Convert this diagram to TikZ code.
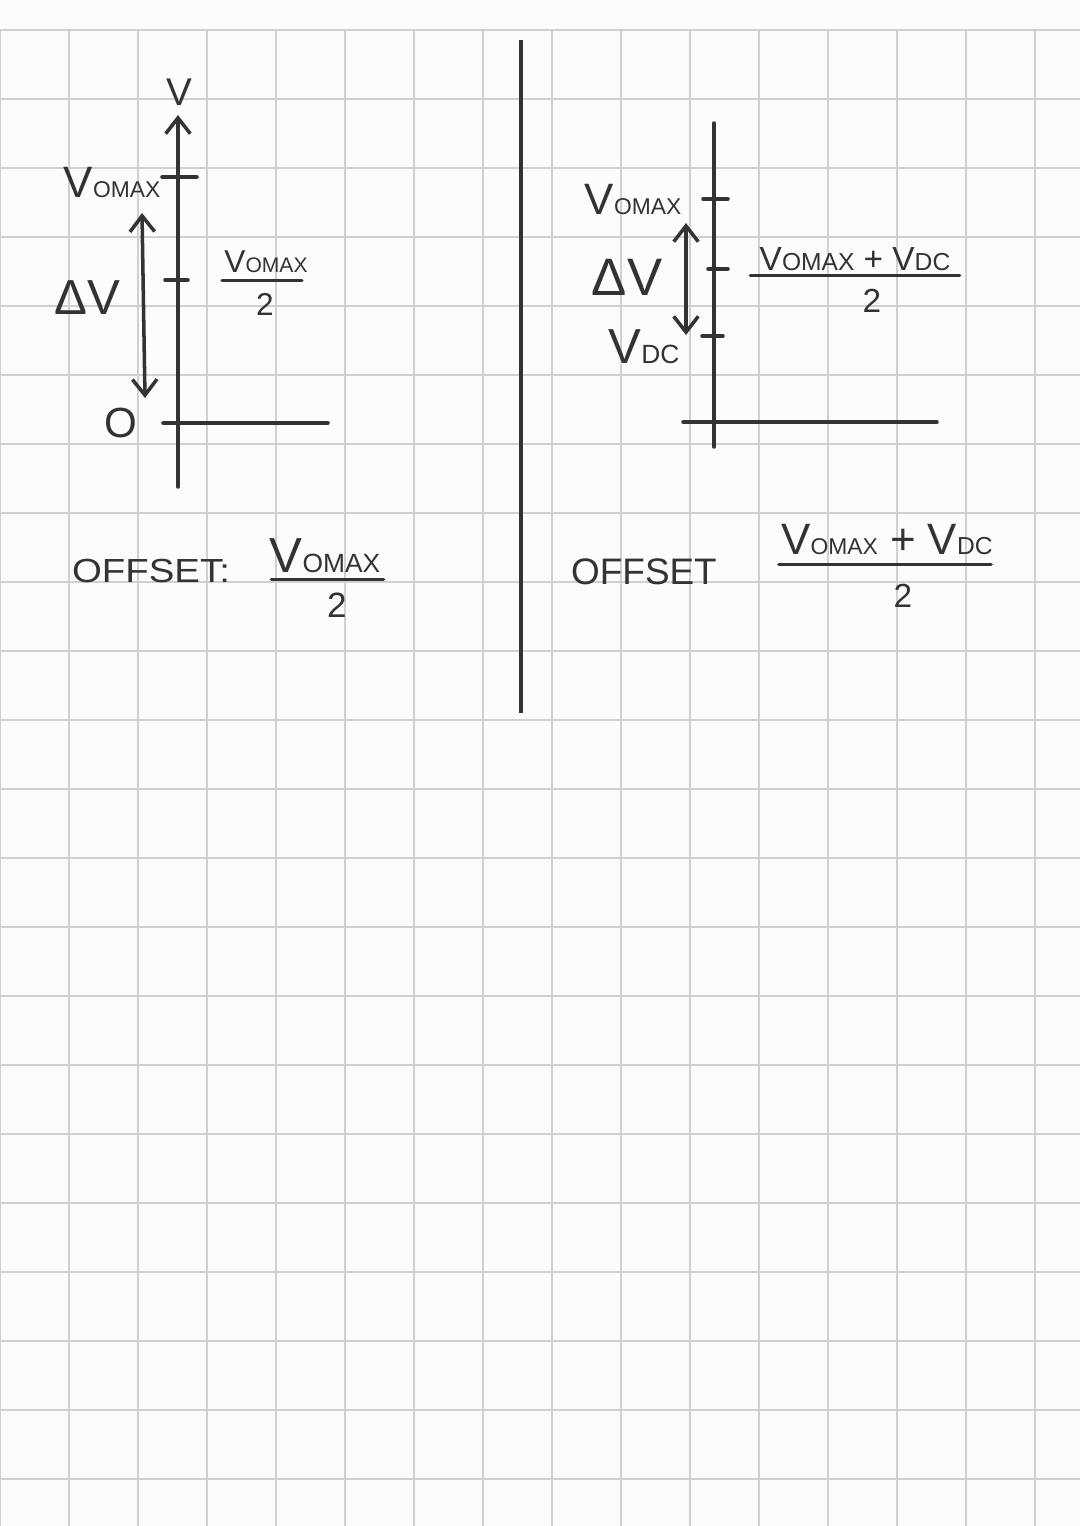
\documentclass[tikz,border=0pt]{standalone}
\usepackage{fontspec}
\setmainfont{Liberation Sans}
\usetikzlibrary{arrows.meta}

\definecolor{ink}{HTML}{333333}
\definecolor{paper}{HTML}{FCFCFC}
\definecolor{gridline}{HTML}{D0D0D0}

% V with a small index written after it
\newcommand{\vsub}[2][13]{V{\fontsize{#1}{#1}\selectfont #2}}

\tikzset{
  pen/.style={draw=ink, line width=2pt, line cap=round},
  hand/.style={text=ink, inner sep=0pt, font=\fontsize{#1}{#1}\selectfont},
  hand/.default=24
}

\begin{document}
\begin{tikzpicture}[x=0.02cm, y=-0.02cm, >={Straight Barb[length=9pt,width=14pt]}]
  \useasboundingbox (0,0) rectangle (1080,1526);
  \fill[paper] (0,0) rectangle (1080,1526);
  % Squared paper.
  \foreach \i in {0,...,15}
    \draw[gridline, line width=0.6pt] (69*\i,30) -- (69*\i,1526);
  \foreach \j in {0,...,21}
    \draw[gridline, line width=0.6pt] (0,30+69*\j) -- (1080,30+69*\j);

  % Left sheet: axes from 0 up to Vomax.
  \coordinate (axL-bot) at (178,487);
  \coordinate (axL-top) at (178,115);
  \coordinate (hxL-a) at (163,423);
  \coordinate (hxL-b) at (328,423);
  \draw[pen, ->] (axL-bot) -- (axL-top);
  \draw[pen] (hxL-a) -- (hxL-b);
  \draw[pen] (162,177) -- (197,177);
  \draw[pen] (165,280) -- (188,280);
  \node[hand=22] (vL) at (179,92) {V};
  \node[hand=25] (vmaxL) at (112,182) {\vsub{OMAX}};
  \node[hand=24] (zeroL) at (121,423) {O};
  \node[hand=28] (dvL) at (87,298) {ΔV};
  % Half of Vomax, beside the middle tick.
  \node[hand=18, anchor=base] (fracL-num) at (266,272) {\vsub[12]{OMAX}};
  \draw[pen] ([shift={(-2,8)}]fracL-num.south west) -- ([shift={(-6,8)}]fracL-num.south east);
  \node[hand=18, anchor=base] (fracL-den) at (265,315) {2};
  % Double arrow for the swing.
  \coordinate (swL-top) at (142,213);
  \coordinate (swL-bot) at (145,398);
  \draw[pen, <->] (swL-top) -- (swL-bot);
  \node[hand=19] (offL) at (151,571) {\scalebox{1.15}[1]{OFFSET:}};
  \node[hand=28, anchor=base] (offL-num) at (325,572) {\vsub[15]{OMAX}};
  \draw[pen] ([shift={(2,7)}]offL-num.south west) -- ([shift={(3,7)}]offL-num.south east);
  \node[hand=20, anchor=base] (offL-den) at (337,617) {2};

  % Divider between the two cases.
  \coordinate (div-top) at (521,40);
  \coordinate (div-bot) at (521,713);
  \draw[ink, line width=2.2pt] (div-top) -- (div-bot);

  % Right sheet: swing between VDC and Vomax.
  \coordinate (axR-bot) at (714,447);
  \coordinate (axR-top) at (714,123);
  \coordinate (hxR-a) at (683,422);
  \coordinate (hxR-b) at (937,422);
  \draw[pen] (axR-bot) -- (axR-top);
  \draw[pen] (hxR-a) -- (hxR-b);
  \draw[pen] (703,199) -- (728,199);
  \draw[pen] (708,269) -- (728,269);
  \draw[pen] (702,336) -- (723,336);
  \node[hand=25] (vmaxR) at (633,199) {\vsub{OMAX}};
  \node[hand=30] (dvR) at (627,277) {ΔV};
  \node[hand=28] (vdcR) at (644,347) {\vsub[15]{DC}};
  \node[hand=19, anchor=base] (fracR-num) at (855,270) {\vsub[14]{OMAX} + \vsub[14]{DC}};
  \draw[pen] ([shift={(-9,5)}]fracR-num.south west) -- ([shift={(9,5)}]fracR-num.south east);
  \node[hand=19, anchor=base] (fracR-den) at (872,312) {2};
  \coordinate (swR-top) at (686,223);
  \coordinate (swR-bot) at (686,335);
  \draw[pen, <->] (swR-top) -- (swR-bot);
  \node[hand=21] (offR) at (644,572) {OFFSET};
  \node[hand=25, anchor=base] (offR-num) at (887,554) {\vsub[13]{OMAX} + \vsub[14]{DC}};
  \draw[pen] ([shift={(-2,10)}]offR-num.south west) -- ([shift={(-2,10)}]offR-num.south east);
  \node[hand=19, anchor=base] (offR-den) at (903,607) {2};
\end{tikzpicture}
\end{document}
